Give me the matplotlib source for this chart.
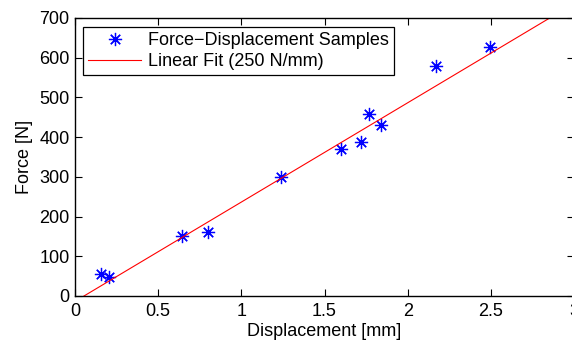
import numpy as np
import matplotlib
matplotlib.use("Agg")
import matplotlib.pyplot as plt

# =========================
# DATA
# =========================
displacement = [0.156, 0.204, 0.641, 0.80, 1.241, 1.601, 1.722, 1.770, 1.842, 2.17, 2.495]
force = [55, 49, 151, 160, 299, 371, 387, 459, 431, 579, 627]

fit_slope = 250.0      # N/mm
fit_intercept = -13.5  # N
fit_range = [0.0, 3.0]

x_ticks = [0, 0.5, 1, 1.5, 2, 2.5, 3]
x_tick_labels = ["0", "0.5", "1", "1.5", "2", "2.5", "3"]
y_ticks = [0, 100, 200, 300, 400, 500, 600, 700]

# =========================
# STYLE
# =========================
plt.rcParams["font.family"] = ["Liberation Sans", "DejaVu Sans"]
FS = 13

# =========================
# PLOT
# =========================
fig = plt.figure(figsize=(5.72, 3.46), dpi=100)
ax = fig.add_axes([75 / 572, 50 / 346, 499 / 572, 278 / 346])

# MATLAB-style asterisk (8 spokes)
ax.plot(displacement, force, linestyle="none", marker=(8, 2, 0), color="#0000ff",
        markersize=9.5, markeredgewidth=0.9, label="Force\u2212Displacement Samples")

fit_x = np.array(fit_range)
ax.plot(fit_x, fit_slope * fit_x + fit_intercept, color="#ff0000", linewidth=0.8,
        label="Linear Fit (250 N/mm)")

ax.set_xlim(0, 3)
ax.set_ylim(0, 700)
ax.set_xticks(x_ticks)
ax.set_xticklabels(x_tick_labels)
ax.set_yticks(y_ticks)
ax.tick_params(direction="in", top=True, right=True, length=5, width=0.8,
               labelsize=FS)
ax.tick_params(axis="x", pad=5)
ax.tick_params(axis="y", pad=4)
for sp in ax.spines.values():
    sp.set_linewidth(1.0)

ax.set_xlabel("Displacement [mm]", fontsize=FS, labelpad=2)
ax.set_ylabel("Force [N]", fontsize=FS, labelpad=4.5)

leg = ax.legend(loc="upper left", bbox_to_anchor=(8 / 499, 1 - 9 / 278),
                borderaxespad=0, fancybox=False, framealpha=1, edgecolor="black",
                handlelength=2.9, handletextpad=0.4, labelspacing=0.2,
                borderpad=0.3, fontsize=FS)
leg.get_frame().set_linewidth(0.9)

fig.savefig("out.png", dpi=100)
